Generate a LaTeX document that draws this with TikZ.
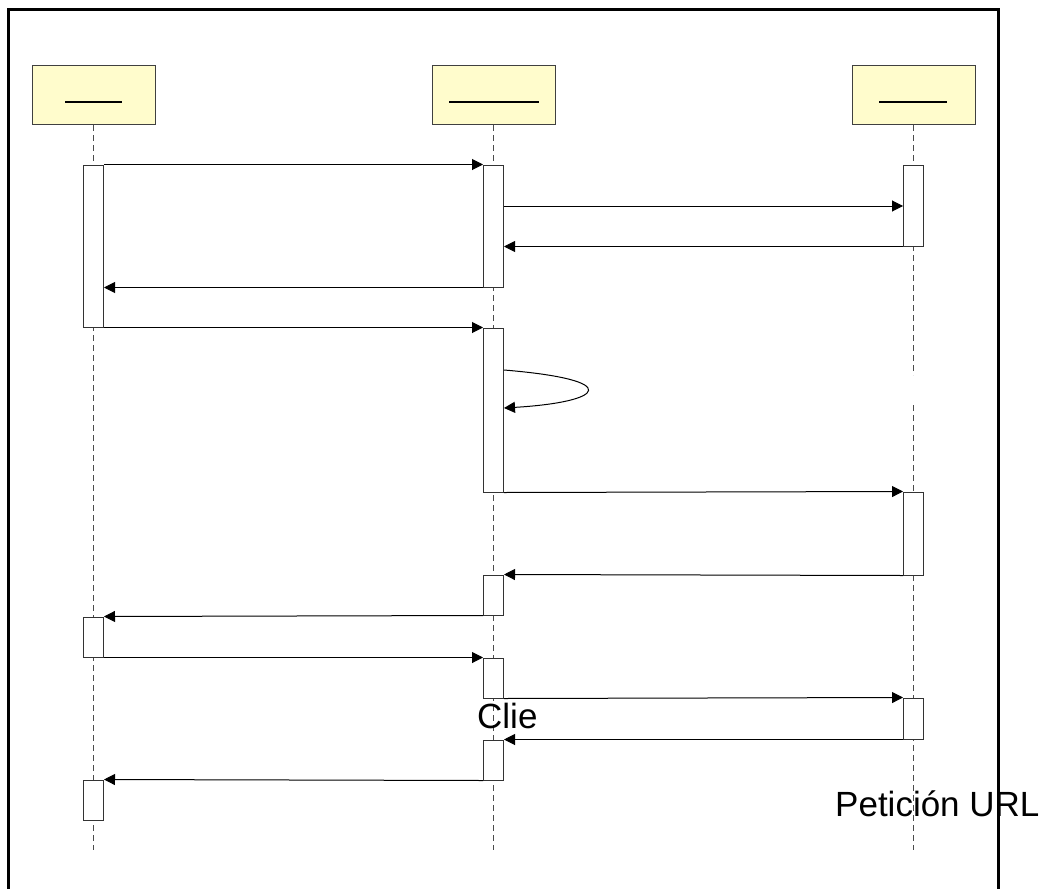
\documentclass[tikz,border=0pt]{standalone}
\usepackage{fontspec}
\setmainfont{Liberation Sans}
\usetikzlibrary{arrows.meta}
\begin{document}
\begin{tikzpicture}[x=1pt, y=-1pt,
    head/.style={rectangle, draw=black!75, fill=yellow!20, line width=1pt,
      minimum width=123pt, minimum height=59pt, inner sep=0pt},
    bar/.style={rectangle, draw=black!80, fill=white, line width=1pt,
      minimum width=20pt, inner sep=0pt},
    life/.style={draw=black!70, line width=1pt, dash pattern=on 6pt off 4pt},
    msg/.style={-{Triangle[length=11pt,width=11pt]}, line width=1pt},
    big/.style={font=\fontsize{35}{40}\selectfont, inner sep=0pt, anchor=base west}
  ]
  \useasboundingbox (0,0) rectangle (1048,888);
  \draw[line width=3pt] (8,895) -- (8,10) -- (998,10) -- (998,895);
  % heads
  \node[head] (ha) at (93.5,95) {};
  \node[head] (hb) at (493.5,95) {};
  \node[head] (hc) at (913.5,95) {};
  \draw[line width=1.2pt] (65,102) -- (122,102);
  \draw[line width=1.2pt] (449,102) -- (539,102);
  \draw[line width=1.2pt] (879,102) -- (947,102);
  % lifelines
  \coordinate (ea) at (93.5,850);
  \coordinate (eb) at (493.5,850);
  \coordinate (ec) at (913.5,850);
  \coordinate (gc1) at (913.5,375);
  \coordinate (gc2) at (913.5,405);
  \draw[life] (ha.south) -- (ea);
  \draw[life] (hb.south) -- (eb);
  \draw[life] (hc.south) -- (gc1);
  \draw[life] (gc2) -- (ec);
  % activation bars
  \node[bar, minimum height=162pt] (a1) at (93.5,246) {};
  \node[bar, minimum height=122pt] (b1) at (493.5,226) {};
  \node[bar, minimum height=81pt]  (c1) at (913.5,205.5) {};
  \node[bar, minimum height=164pt] (b2) at (493.5,410) {};
  \node[bar, minimum height=83pt]  (c2) at (913.5,533.5) {};
  \node[bar, minimum height=40pt]  (b3) at (493.5,595) {};
  \node[bar, minimum height=40pt]  (a2) at (93.5,637) {};
  \node[bar, minimum height=40pt]  (b4) at (493.5,678) {};
  \node[bar, minimum height=41pt]  (c3) at (913.5,718.5) {};
  \node[bar, minimum height=40pt]  (b5) at (493.5,760) {};
  \node[bar, minimum height=40pt]  (a3) at (93.5,800) {};
  % messages
  \draw[msg] (a1.north east) -- (b1.north west);
  \draw[msg] (b1.east |- 0,206) -- (c1.west |- 0,206);
  \draw[msg] (c1.south west) -- (c1.south west -| b1.east);
  \draw[msg] (b1.south west) -- (b1.south west -| a1.east);
  \draw[msg] (a1.south east) -- (b2.north west);
  \draw[msg] (b2.east |- 0,370) .. controls (625,380) and (605,402) .. (b2.east |- 0,408);
  \draw[msg] (b2.south east) -- (c2.north west);
  \draw[msg] (c2.south west) -- (b3.north east);
  \draw[msg] (b3.south west) -- (a2.north east);
  \draw[msg] (a2.south east) -- (b4.north west);
  \draw[msg] (b4.south east) -- (c3.north west);
  \draw[msg] (c3.south west) -- (b5.north east);
  \draw[msg] (b5.south west) -- (a3.north east);
  % labels
  \node[big] (lcli) at (477,728) {Clie};
  \node[big] (lurl) at (835,816) {Petición URL};
\end{tikzpicture}
\end{document}
